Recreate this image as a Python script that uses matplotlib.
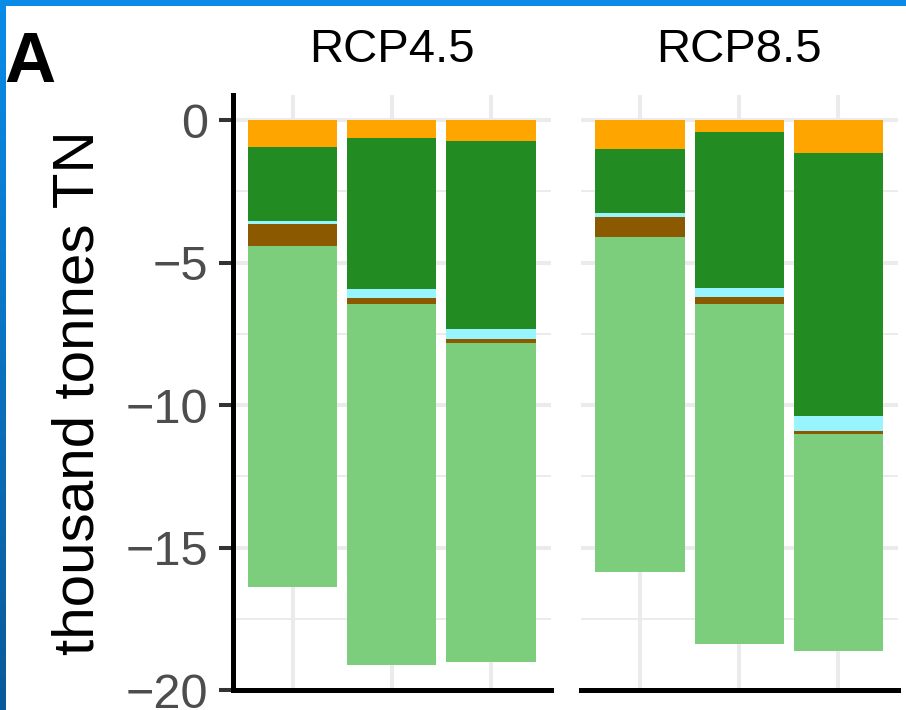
import numpy as np
import matplotlib
matplotlib.use('Agg')
import matplotlib.pyplot as plt
from matplotlib.patches import Rectangle
from matplotlib.colors import LinearSegmentedColormap

plt.rcParams['font.family'] = ['Liberation Sans', 'DejaVu Sans']

scenarios = ['RCP4.5', 'RCP8.5']
components = ['orange', 'forest', 'cyan', 'brown', 'palegreen']
colors = ['#FFA500', '#228B22', '#98F5FF', '#8B5A00', '#7CCD7C']

# segment sizes (thousand tonnes TN, negative), top to bottom of each stack
rcp45 = {
    'orange':    [-0.95, -0.62, -0.73],
    'forest':    [-2.60, -5.31, -6.59],
    'cyan':      [-0.11, -0.30, -0.38],
    'brown':     [-0.76, -0.23, -0.14],
    'palegreen': [-11.98, -12.65, -11.19],
}
rcp85 = {
    'orange':    [-1.03, -0.43, -1.15],
    'forest':    [-2.24, -5.45, -9.24],
    'cyan':      [-0.14, -0.34, -0.52],
    'brown':     [-0.69, -0.22, -0.09],
    'palegreen': [-11.76, -11.96, -7.62],
}
data = [rcp45, rcp85]
xpos = [1, 2, 3]

W, H = 906, 710
fig = plt.figure(figsize=(9.06, 7.10), dpi=100)
fig.patch.set_facecolor('white')

# blue screenshot frame on top and left
fig.patches.append(Rectangle((0, 1 - 6/H), 1, 6/H, transform=fig.transFigure,
                             facecolor='#0A8BE8', edgecolor='none', zorder=10))
edge = fig.add_axes([0, 0, 6/W, 1 - 6/H])
edge.imshow(np.linspace(0, 1, 100).reshape(-1, 1), aspect='auto',
            cmap=LinearSegmentedColormap.from_list('frame', ['#0A8BE8', '#0A5A9A']))
edge.set_axis_off()

bottom = (H - 690) / H
height = 595 / H
lefts = [233, 580.5]
width = 317.5

for i, (sc, d) in enumerate(zip(scenarios, data)):
    ax = fig.add_axes([lefts[i] / W, bottom, width / W, height])
    ax.set_facecolor('none')
    base = np.zeros(3)
    for comp, col in zip(components, colors):
        vals = np.array(d[comp])
        ax.bar(xpos, vals, bottom=base, width=0.9, color=col, zorder=3)
        base = base + vals
    ax.set_xlim(0.4, 3.6)
    ax.set_ylim(-20, 0.88)
    ax.set_yticks([0, -5, -10, -15, -20])
    ax.set_yticks([-2.5, -7.5, -12.5, -17.5], minor=True)
    ax.set_xticks(xpos)
    ax.grid(which='major', color='#EBEBEB', lw=2.9, zorder=0)
    ax.grid(which='minor', axis='y', color='#EBEBEB', lw=1.4, zorder=0)
    ax.tick_params(axis='x', length=0, labelbottom=False)
    ax.tick_params(axis='y', which='minor', length=0)
    for s in ['top', 'right']:
        ax.spines[s].set_visible(False)
    ax.spines['bottom'].set_linewidth(3.6)
    ax.spines['bottom'].set_color('black')
    if i == 0:
        ax.spines['left'].set_linewidth(3.6)
        ax.spines['left'].set_color('black')
        ax.tick_params(axis='y', which='major', length=10, width=2.9, color='#333333',
                       labelsize=35, labelcolor='#4D4D4D', pad=8)
        ax.set_yticklabels(['0', '\u22125', '\u221210', '\u221215', '\u221220'])
        ax.set_ylabel('thousand tonnes TN', fontsize=42, labelpad=14)
    else:
        ax.spines['left'].set_visible(False)
        ax.tick_params(axis='y', length=0, labelleft=False)
    ax.set_title(sc, fontsize=34, pad=24)

fig.text(4 / W, 1 - 82 / H, 'A', fontsize=51, fontweight='bold', va='baseline', ha='left')

fig.savefig('out.png', dpi=100)
